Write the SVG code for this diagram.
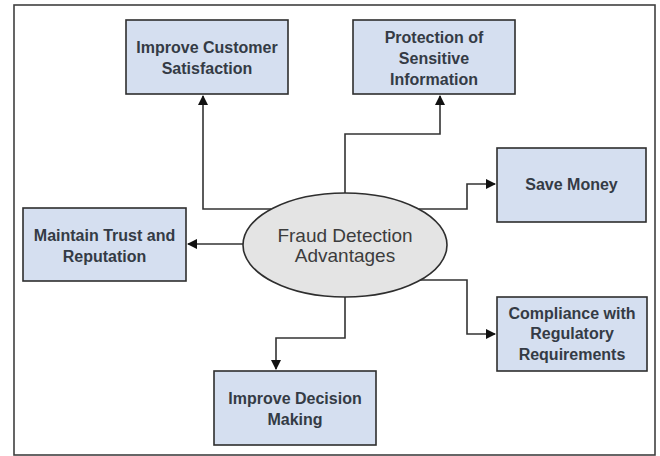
<svg xmlns="http://www.w3.org/2000/svg" width="660" height="456" viewBox="0 0 660 456">
  <style>
    .frame { fill: #ffffff; stroke: #404040; stroke-width: 1.6; }
    .box { fill: #d5dff0; stroke: #2e2e2e; stroke-width: 1.6; }
    .hub { fill: #e4e4e4; stroke: #2e2e2e; stroke-width: 1.6; }
    .wire { fill: none; stroke: #333333; stroke-width: 1.6; }
    .label { font-family: "Liberation Sans", Arial, sans-serif; font-size: 16px; font-weight: bold; fill: #343b45; text-anchor: middle; }
    .hub-label { font-family: "Liberation Sans", Arial, sans-serif; font-size: 19px; fill: #3c3c3c; text-anchor: middle; }
  </style>
  <defs>
    <marker id="arrow" viewBox="0 0 10 10" refX="9" refY="5" markerWidth="6.5" markerHeight="6.5" markerUnits="strokeWidth" orient="auto">
      <path d="M0,0 L10,5 L0,10 z" fill="#111111"/>
    </marker>
  </defs>

  <rect class="frame" x="14" y="5" width="641" height="450"/>

  <g id="connectors">
    <path class="wire" d="M271,209 H203 V96" marker-end="url(#arrow)"/>
    <path class="wire" d="M345,193 V134 H440 V96" marker-end="url(#arrow)"/>
    <path class="wire" d="M419,209 H467 V184 H495" marker-end="url(#arrow)"/>
    <path class="wire" d="M243,244 H188" marker-end="url(#arrow)"/>
    <path class="wire" d="M345,297 V338 H276 V369" marker-end="url(#arrow)"/>
    <path class="wire" d="M420,280 H467 V334 H495" marker-end="url(#arrow)"/>
  </g>

  <g id="hub">
    <ellipse class="hub" cx="345" cy="245" rx="102" ry="52"/>
    <text class="hub-label" x="345" y="242">Fraud Detection</text>
    <text class="hub-label" x="345" y="262">Advantages</text>
  </g>

  <g id="customer-satisfaction">
    <rect class="box" x="126" y="20" width="162" height="74"/>
    <text class="label" x="207" y="53">Improve Customer</text>
    <text class="label" x="207" y="74">Satisfaction</text>
  </g>

  <g id="sensitive-information">
    <rect class="box" x="353" y="20" width="162" height="74"/>
    <text class="label" x="434" y="43">Protection of</text>
    <text class="label" x="434" y="64">Sensitive</text>
    <text class="label" x="434" y="85">Information</text>
  </g>

  <g id="save-money">
    <rect class="box" x="497" y="148" width="149" height="74"/>
    <text class="label" x="571.5" y="190">Save Money</text>
  </g>

  <g id="trust-reputation">
    <rect class="box" x="23" y="208" width="163" height="73"/>
    <text class="label" x="104.5" y="241">Maintain Trust and</text>
    <text class="label" x="104.5" y="262">Reputation</text>
  </g>

  <g id="decision-making">
    <rect class="box" x="214" y="371" width="162" height="74"/>
    <text class="label" x="295" y="404">Improve Decision</text>
    <text class="label" x="295" y="425">Making</text>
  </g>

  <g id="regulatory-compliance">
    <rect class="box" x="497" y="297" width="150" height="74"/>
    <text class="label" x="572" y="319">Compliance with</text>
    <text class="label" x="572" y="339">Regulatory</text>
    <text class="label" x="572" y="360">Requirements</text>
  </g>
</svg>
